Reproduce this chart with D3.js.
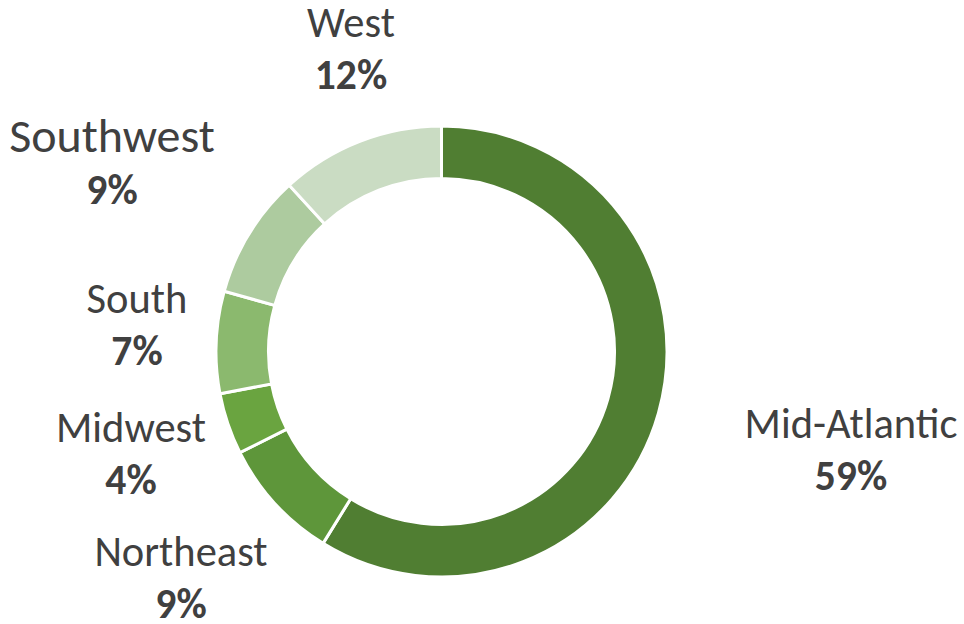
<!DOCTYPE html>
<html><head><meta charset="utf-8">
<script src="https://cdn.jsdelivr.net/npm/d3@7/dist/d3.min.js"></script>
<style>html,body{margin:0;padding:0;background:#fff;}svg{display:block;}</style>
</head><body>
<svg id="chart" width="964" height="624"></svg>
<script>
// Data
const categories = ["Mid-Atlantic", "Northeast", "Midwest", "South", "Southwest", "West"];
const values = [58.8, 8.8, 4.4, 7.3, 8.9, 11.8];
const colors = ["#507E32", "#5E963A", "#6AA440", "#8BB96E", "#ADCB9F", "#CADCC3"];

// Layout (label anchor points, name font size)
const labelLayout = {
  "Mid-Atlantic": {x: 851, y: 438, size: 42.5},
  "Northeast":    {x: 181, y: 566, size: 42.5},
  "Midwest":      {x: 131, y: 442, size: 42.5},
  "South":        {x: 137, y: 313, size: 42.5},
  "Southwest":    {x: 112, y: 152, size: 48},
  "West":         {x: 351, y: 37,  size: 42.5}
};

const W = 964, H = 624;
const cx = 441.5, cy = 351.5, R = 225.5, r = 173;
const svg = d3.select("#chart");
const font = "Carlito, Lato, 'Open Sans', sans-serif";

const total = d3.sum(values);
const pie = d3.pie().sort(null).value(d => d.value);
const arc = d3.arc().innerRadius(r).outerRadius(R);
const data = categories.map((c, i) => ({name: c, value: values[i], color: colors[i]}));

const g = svg.append("g").attr("transform", `translate(${cx},${cy})`);
g.selectAll("path").data(pie(data)).join("path")
  .attr("d", arc)
  .attr("fill", d => d.data.color)
  .attr("stroke", "#fff")
  .attr("stroke-width", 3)
  .attr("stroke-linejoin", "miter");

const labels = svg.append("g");
data.forEach(d => {
  const L = labelLayout[d.name];
  labels.append("text")
    .attr("x", L.x).attr("y", L.y)
    .attr("text-anchor", "middle")
    .attr("font-family", font)
    .attr("font-size", L.size)
    .attr("fill", "#404040")
    .text(d.name);
  labels.append("text")
    .attr("x", L.x).attr("y", L.y + 52)
    .attr("text-anchor", "middle")
    .attr("font-family", font)
    .attr("font-size", 41.5)
    .attr("font-weight", "bold")
    .attr("fill", "#404040")
    .text(Math.round(d.value / total * 100) + "%");
});
</script>
</body></html>
